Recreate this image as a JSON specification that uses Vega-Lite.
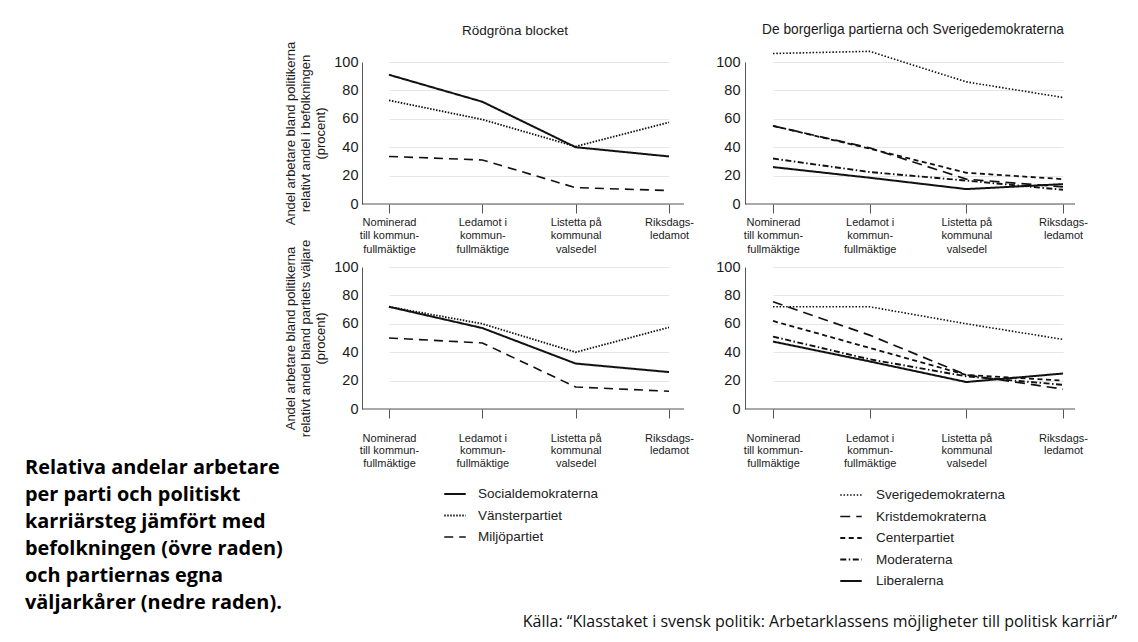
{
  "$schema": "https://vega.github.io/schema/vega-lite/v6.json",
  "background": "white",
  "padding": {"left": 25, "top": 23, "right": 5, "bottom": 5},
  "datasets": {
    "tl": [
      {"steg": "Nominerad|till kommun-|fullmäktige", "parti": "Socialdemokraterna", "andel": 91},
      {"steg": "Ledamot i|kommun-|fullmäktige", "parti": "Socialdemokraterna", "andel": 72},
      {"steg": "Listetta på|kommunal|valsedel", "parti": "Socialdemokraterna", "andel": 40},
      {"steg": "Riksdags-|ledamot", "parti": "Socialdemokraterna", "andel": 33.5},
      {"steg": "Nominerad|till kommun-|fullmäktige", "parti": "Vänsterpartiet", "andel": 73},
      {"steg": "Ledamot i|kommun-|fullmäktige", "parti": "Vänsterpartiet", "andel": 59.5},
      {"steg": "Listetta på|kommunal|valsedel", "parti": "Vänsterpartiet", "andel": 40.5},
      {"steg": "Riksdags-|ledamot", "parti": "Vänsterpartiet", "andel": 57.5},
      {"steg": "Nominerad|till kommun-|fullmäktige", "parti": "Miljöpartiet", "andel": 33.5},
      {"steg": "Ledamot i|kommun-|fullmäktige", "parti": "Miljöpartiet", "andel": 31},
      {"steg": "Listetta på|kommunal|valsedel", "parti": "Miljöpartiet", "andel": 11.5},
      {"steg": "Riksdags-|ledamot", "parti": "Miljöpartiet", "andel": 9.5}
    ],
    "tr": [
      {"steg": "Nominerad|till kommun-|fullmäktige", "parti": "Sverigedemokraterna", "andel": 106},
      {"steg": "Ledamot i|kommun-|fullmäktige", "parti": "Sverigedemokraterna", "andel": 107.5},
      {"steg": "Listetta på|kommunal|valsedel", "parti": "Sverigedemokraterna", "andel": 86},
      {"steg": "Riksdags-|ledamot", "parti": "Sverigedemokraterna", "andel": 75},
      {"steg": "Nominerad|till kommun-|fullmäktige", "parti": "Kristdemokraterna", "andel": 55},
      {"steg": "Ledamot i|kommun-|fullmäktige", "parti": "Kristdemokraterna", "andel": 39.5},
      {"steg": "Listetta på|kommunal|valsedel", "parti": "Kristdemokraterna", "andel": 17.5},
      {"steg": "Riksdags-|ledamot", "parti": "Kristdemokraterna", "andel": 12},
      {"steg": "Nominerad|till kommun-|fullmäktige", "parti": "Centerpartiet", "andel": 55},
      {"steg": "Ledamot i|kommun-|fullmäktige", "parti": "Centerpartiet", "andel": 39},
      {"steg": "Listetta på|kommunal|valsedel", "parti": "Centerpartiet", "andel": 22},
      {"steg": "Riksdags-|ledamot", "parti": "Centerpartiet", "andel": 17.5},
      {"steg": "Nominerad|till kommun-|fullmäktige", "parti": "Moderaterna", "andel": 32},
      {"steg": "Ledamot i|kommun-|fullmäktige", "parti": "Moderaterna", "andel": 22.5},
      {"steg": "Listetta på|kommunal|valsedel", "parti": "Moderaterna", "andel": 16.5},
      {"steg": "Riksdags-|ledamot", "parti": "Moderaterna", "andel": 10},
      {"steg": "Nominerad|till kommun-|fullmäktige", "parti": "Liberalerna", "andel": 26},
      {"steg": "Ledamot i|kommun-|fullmäktige", "parti": "Liberalerna", "andel": 18.5},
      {"steg": "Listetta på|kommunal|valsedel", "parti": "Liberalerna", "andel": 10.5},
      {"steg": "Riksdags-|ledamot", "parti": "Liberalerna", "andel": 14}
    ],
    "bl": [
      {"steg": "Nominerad|till kommun-|fullmäktige", "parti": "Socialdemokraterna", "andel": 72},
      {"steg": "Ledamot i|kommun-|fullmäktige", "parti": "Socialdemokraterna", "andel": 57},
      {"steg": "Listetta på|kommunal|valsedel", "parti": "Socialdemokraterna", "andel": 32},
      {"steg": "Riksdags-|ledamot", "parti": "Socialdemokraterna", "andel": 26},
      {"steg": "Nominerad|till kommun-|fullmäktige", "parti": "Vänsterpartiet", "andel": 72},
      {"steg": "Ledamot i|kommun-|fullmäktige", "parti": "Vänsterpartiet", "andel": 60},
      {"steg": "Listetta på|kommunal|valsedel", "parti": "Vänsterpartiet", "andel": 40},
      {"steg": "Riksdags-|ledamot", "parti": "Vänsterpartiet", "andel": 57.5},
      {"steg": "Nominerad|till kommun-|fullmäktige", "parti": "Miljöpartiet", "andel": 50},
      {"steg": "Ledamot i|kommun-|fullmäktige", "parti": "Miljöpartiet", "andel": 46.5},
      {"steg": "Listetta på|kommunal|valsedel", "parti": "Miljöpartiet", "andel": 15.5},
      {"steg": "Riksdags-|ledamot", "parti": "Miljöpartiet", "andel": 12.5}
    ],
    "br": [
      {"steg": "Nominerad|till kommun-|fullmäktige", "parti": "Sverigedemokraterna", "andel": 72},
      {"steg": "Ledamot i|kommun-|fullmäktige", "parti": "Sverigedemokraterna", "andel": 72},
      {"steg": "Listetta på|kommunal|valsedel", "parti": "Sverigedemokraterna", "andel": 60},
      {"steg": "Riksdags-|ledamot", "parti": "Sverigedemokraterna", "andel": 49},
      {"steg": "Nominerad|till kommun-|fullmäktige", "parti": "Kristdemokraterna", "andel": 75.5},
      {"steg": "Ledamot i|kommun-|fullmäktige", "parti": "Kristdemokraterna", "andel": 52},
      {"steg": "Listetta på|kommunal|valsedel", "parti": "Kristdemokraterna", "andel": 24},
      {"steg": "Riksdags-|ledamot", "parti": "Kristdemokraterna", "andel": 14},
      {"steg": "Nominerad|till kommun-|fullmäktige", "parti": "Centerpartiet", "andel": 62},
      {"steg": "Ledamot i|kommun-|fullmäktige", "parti": "Centerpartiet", "andel": 43},
      {"steg": "Listetta på|kommunal|valsedel", "parti": "Centerpartiet", "andel": 24},
      {"steg": "Riksdags-|ledamot", "parti": "Centerpartiet", "andel": 20},
      {"steg": "Nominerad|till kommun-|fullmäktige", "parti": "Moderaterna", "andel": 51},
      {"steg": "Ledamot i|kommun-|fullmäktige", "parti": "Moderaterna", "andel": 35},
      {"steg": "Listetta på|kommunal|valsedel", "parti": "Moderaterna", "andel": 23},
      {"steg": "Riksdags-|ledamot", "parti": "Moderaterna", "andel": 17},
      {"steg": "Nominerad|till kommun-|fullmäktige", "parti": "Liberalerna", "andel": 47.5},
      {"steg": "Ledamot i|kommun-|fullmäktige", "parti": "Liberalerna", "andel": 33.5},
      {"steg": "Listetta på|kommunal|valsedel", "parti": "Liberalerna", "andel": 19},
      {"steg": "Riksdags-|ledamot", "parti": "Liberalerna", "andel": 25}
    ]
  },
  "columns": 2,
  "spacing": {"row": 63, "column": 53},
  "bounds": "flush",
  "align": "all",
  "resolve": {
    "scale": {"strokeDash": "independent", "strokeWidth": "independent", "x": "independent", "y": "independent"},
    "legend": {"strokeDash": "independent", "strokeWidth": "independent"}
  },
  "concat": [
    {
      "width": 322,
      "height": 142,
      "title": {"text": "Rödgröna blocket", "dx": -8, "offset": 4},
      "data": {"name": "tl"},
      "layer": [
        {
          "mark": {"type": "line", "color": "#111"},
          "encoding": {
            "x": {
              "field": "steg", "type": "nominal",
              "scale": {"type": "point", "padding": 0, "range": [27, 307], "domain": ["Nominerad|till kommun-|fullmäktige", "Ledamot i|kommun-|fullmäktige", "Listetta på|kommunal|valsedel", "Riksdags-|ledamot"]},
              "axis": {"title": null, "labelExpr": "split(datum.label, '|')", "labelAngle": 0, "labelFontSize": 11, "labelLineHeight": 13.5, "tickSize": 9, "tickColor": "#555", "domain": false, "labelPadding": 3}
            },
            "y": {
              "field": "andel", "type": "quantitative",
              "scale": {"domain": [0, 100], "nice": false},
              "axis": {"title": ["Andel arbetare bland politikerna", "relativt andel i befolkningen", "(procent)"], "titleFontSize": 13, "titleFontWeight": "normal", "titleLineHeight": 15, "titlePadding": 6, "values": [0, 20, 40, 60, 80, 100], "labelOverlap": false, "ticks": false, "domainColor": "#555", "gridColor": "#e6e6e6", "labelFontSize": 14.5, "labelPadding": 4}
            },
            "strokeDash": {
              "field": "parti", "type": "nominal",
              "scale": {"domain": ["Socialdemokraterna", "Vänsterpartiet", "Miljöpartiet"], "range": [[1, 0], [1.5, 1.5], [9, 6]]},
              "legend": null
            },
            "strokeWidth": {
              "field": "parti", "type": "nominal",
              "scale": {"domain": ["Socialdemokraterna", "Vänsterpartiet", "Miljöpartiet"], "range": [2, 1.6, 2]},
              "legend": null
            }
          }
        },
        {
          "data": {"values": [{}]},
          "mark": {"type": "rule", "color": "#555", "strokeWidth": 1},
          "encoding": {"y": {"datum": 0, "type": "quantitative", "axis": {"title": ["Andel arbetare bland politikerna", "relativt andel i befolkningen", "(procent)"], "titleFontSize": 13, "titleFontWeight": "normal", "titleLineHeight": 15, "titlePadding": 6, "values": [0, 20, 40, 60, 80, 100], "labelOverlap": false, "ticks": false, "domainColor": "#555", "gridColor": "#e6e6e6", "labelFontSize": 14.5, "labelPadding": 4}}}
        }
      ]
    },
    {
      "width": 330,
      "height": 142,
      "title": {"text": "De borgerliga partierna och Sverigedemokraterna", "dx": 3, "offset": 11, "fontSize": 13.75},
      "data": {"name": "tr"},
      "layer": [
        {
          "mark": {"type": "line", "color": "#111"},
          "encoding": {
            "x": {
              "field": "steg", "type": "nominal",
              "scale": {"type": "point", "padding": 0, "range": [28, 318], "domain": ["Nominerad|till kommun-|fullmäktige", "Ledamot i|kommun-|fullmäktige", "Listetta på|kommunal|valsedel", "Riksdags-|ledamot"]},
              "axis": {"title": null, "labelExpr": "split(datum.label, '|')", "labelAngle": 0, "labelFontSize": 11, "labelLineHeight": 13.5, "tickSize": 9, "tickColor": "#555", "domain": false, "labelPadding": 3}
            },
            "y": {
              "field": "andel", "type": "quantitative",
              "scale": {"domain": [0, 100], "nice": false},
              "axis": {"title": null, "values": [0, 20, 40, 60, 80, 100], "labelOverlap": false, "ticks": false, "domainColor": "#555", "gridColor": "#e6e6e6", "labelFontSize": 14.5, "labelPadding": 5}
            },
            "strokeDash": {
              "field": "parti", "type": "nominal",
              "scale": {"domain": ["Sverigedemokraterna", "Kristdemokraterna", "Centerpartiet", "Moderaterna", "Liberalerna"], "range": [[1.5, 1.8], [10, 6], [5, 3.5], [6, 2.5, 1.5, 2.5], [1, 0]]},
              "legend": null
            },
            "strokeWidth": {
              "field": "parti", "type": "nominal",
              "scale": {"domain": ["Sverigedemokraterna", "Kristdemokraterna", "Centerpartiet", "Moderaterna", "Liberalerna"], "range": [1.6, 2, 2, 2, 1.8]},
              "legend": null
            }
          }
        },
        {
          "data": {"values": [{}]},
          "mark": {"type": "rule", "color": "#555", "strokeWidth": 1},
          "encoding": {"y": {"datum": 0, "type": "quantitative", "axis": {"title": null, "values": [0, 20, 40, 60, 80, 100], "labelOverlap": false, "ticks": false, "domainColor": "#555", "gridColor": "#e6e6e6", "labelFontSize": 14.5, "labelPadding": 5}}}
        }
      ]
    },
    {
      "width": 322,
      "height": 142,
      "title": {
        "text": ["Relativa andelar arbetare", "per parti och politiskt", "karriärsteg jämfört med", "befolkningen (övre raden)", "och partiernas egna", "väljarkårer (nedre raden)."],
        "orient": "bottom", "anchor": "start", "frame": "group", "align": "left", "baseline": "top",
        "dx": -337, "dy": -86, "offset": 0,
        "font": "Open Sans", "fontSize": 19.9, "fontWeight": "bold", "lineHeight": 27, "color": "#000"
      },
      "data": {"name": "bl"},
      "layer": [
        {
          "mark": {"type": "line", "color": "#111"},
          "encoding": {
            "x": {
              "field": "steg", "type": "nominal",
              "scale": {"type": "point", "padding": 0, "range": [27, 307], "domain": ["Nominerad|till kommun-|fullmäktige", "Ledamot i|kommun-|fullmäktige", "Listetta på|kommunal|valsedel", "Riksdags-|ledamot"]},
              "axis": {"title": null, "labelExpr": "split(datum.label, '|')", "labelAngle": 0, "labelFontSize": 11, "labelLineHeight": 12.5, "tickSize": 9, "tickColor": "#555", "domain": false, "labelPadding": 14}
            },
            "y": {
              "field": "andel", "type": "quantitative",
              "scale": {"domain": [0, 100], "nice": false},
              "axis": {"title": ["Andel arbetare bland politikerna", "relativt andel bland partiets väljare", "(procent)"], "titleFontSize": 13, "titleFontWeight": "normal", "titleLineHeight": 15, "titlePadding": 6, "values": [0, 20, 40, 60, 80, 100], "labelOverlap": false, "ticks": false, "domainColor": "#555", "gridColor": "#e6e6e6", "labelFontSize": 14.5, "labelPadding": 4}
            },
            "strokeDash": {
              "field": "parti", "type": "nominal",
              "scale": {"domain": ["Socialdemokraterna", "Vänsterpartiet", "Miljöpartiet"], "range": [[1, 0], [1.5, 1.5], [9, 6]]},
              "legend": {"orient": "none", "legendX": 81, "legendY": 215, "title": null, "direction": "vertical", "symbolType": "stroke", "symbolSize": 462, "symbolStrokeWidth": 2, "symbolStrokeColor": "#111", "labelOffset": 11, "rowPadding": 2.5, "padding": 0, "labelFontSize": 13.5, "labelFont": "Liberation Sans", "labelColor": "#222"}
            },
            "strokeWidth": {
              "field": "parti", "type": "nominal",
              "scale": {"domain": ["Socialdemokraterna", "Vänsterpartiet", "Miljöpartiet"], "range": [2, 1.6, 2]},
              "legend": null
            }
          }
        },
        {
          "data": {"values": [{}]},
          "mark": {"type": "rule", "color": "#555", "strokeWidth": 1},
          "encoding": {"y": {"datum": 0, "type": "quantitative", "axis": {"title": ["Andel arbetare bland politikerna", "relativt andel bland partiets väljare", "(procent)"], "titleFontSize": 13, "titleFontWeight": "normal", "titleLineHeight": 15, "titlePadding": 6, "values": [0, 20, 40, 60, 80, 100], "labelOverlap": false, "ticks": false, "domainColor": "#555", "gridColor": "#e6e6e6", "labelFontSize": 14.5, "labelPadding": 4}}}
        }
      ]
    },
    {
      "width": 330,
      "height": 142,
      "title": {
        "text": "Källa: “Klasstaket i svensk politik: Arbetarklassens möjligheter till politisk karriär”",
        "orient": "bottom", "anchor": "end", "frame": "group", "align": "right", "baseline": "top",
        "dx": 42, "dy": 26, "offset": 0,
        "font": "Open Sans", "fontSize": 16, "fontWeight": "normal", "color": "#111"
      },
      "data": {"name": "br"},
      "layer": [
        {
          "mark": {"type": "line", "color": "#111"},
          "encoding": {
            "x": {
              "field": "steg", "type": "nominal",
              "scale": {"type": "point", "padding": 0, "range": [28, 318], "domain": ["Nominerad|till kommun-|fullmäktige", "Ledamot i|kommun-|fullmäktige", "Listetta på|kommunal|valsedel", "Riksdags-|ledamot"]},
              "axis": {"title": null, "labelExpr": "split(datum.label, '|')", "labelAngle": 0, "labelFontSize": 11, "labelLineHeight": 12.5, "tickSize": 9, "tickColor": "#555", "domain": false, "labelPadding": 14}
            },
            "y": {
              "field": "andel", "type": "quantitative",
              "scale": {"domain": [0, 100], "nice": false},
              "axis": {"title": null, "values": [0, 20, 40, 60, 80, 100], "labelOverlap": false, "ticks": false, "domainColor": "#555", "gridColor": "#e6e6e6", "labelFontSize": 14.5, "labelPadding": 5}
            },
            "strokeDash": {
              "field": "parti", "type": "nominal",
              "scale": {"domain": ["Sverigedemokraterna", "Kristdemokraterna", "Centerpartiet", "Moderaterna", "Liberalerna"], "range": [[1.5, 1.8], [10, 6], [5, 3.5], [6, 2.5, 1.5, 2.5], [1, 0]]},
              "legend": {"orient": "none", "legendX": 94, "legendY": 216, "title": null, "direction": "vertical", "symbolType": "stroke", "symbolSize": 462, "symbolStrokeWidth": 2, "symbolStrokeColor": "#111", "labelOffset": 13, "rowPadding": 2.5, "padding": 0, "labelFontSize": 13.5, "labelFont": "Liberation Sans", "labelColor": "#222"}
            },
            "strokeWidth": {
              "field": "parti", "type": "nominal",
              "scale": {"domain": ["Sverigedemokraterna", "Kristdemokraterna", "Centerpartiet", "Moderaterna", "Liberalerna"], "range": [1.6, 2, 2, 2, 1.8]},
              "legend": null
            }
          }
        },
        {
          "data": {"values": [{}]},
          "mark": {"type": "rule", "color": "#555", "strokeWidth": 1},
          "encoding": {"y": {"datum": 0, "type": "quantitative", "axis": {"title": null, "values": [0, 20, 40, 60, 80, 100], "labelOverlap": false, "ticks": false, "domainColor": "#555", "gridColor": "#e6e6e6", "labelFontSize": 14.5, "labelPadding": 5}}}
        }
      ]
    }
  ],
  "config": {
    "font": "Liberation Sans",
    "view": {"stroke": null},
    "axis": {"labelColor": "#1a1a1a", "titleColor": "#1a1a1a", "labelFont": "Liberation Sans", "titleFont": "Liberation Sans"},
    "title": {"font": "Liberation Sans", "fontSize": 13.5, "fontWeight": "normal", "color": "#1a1a1a", "offset": 25}
  }
}
